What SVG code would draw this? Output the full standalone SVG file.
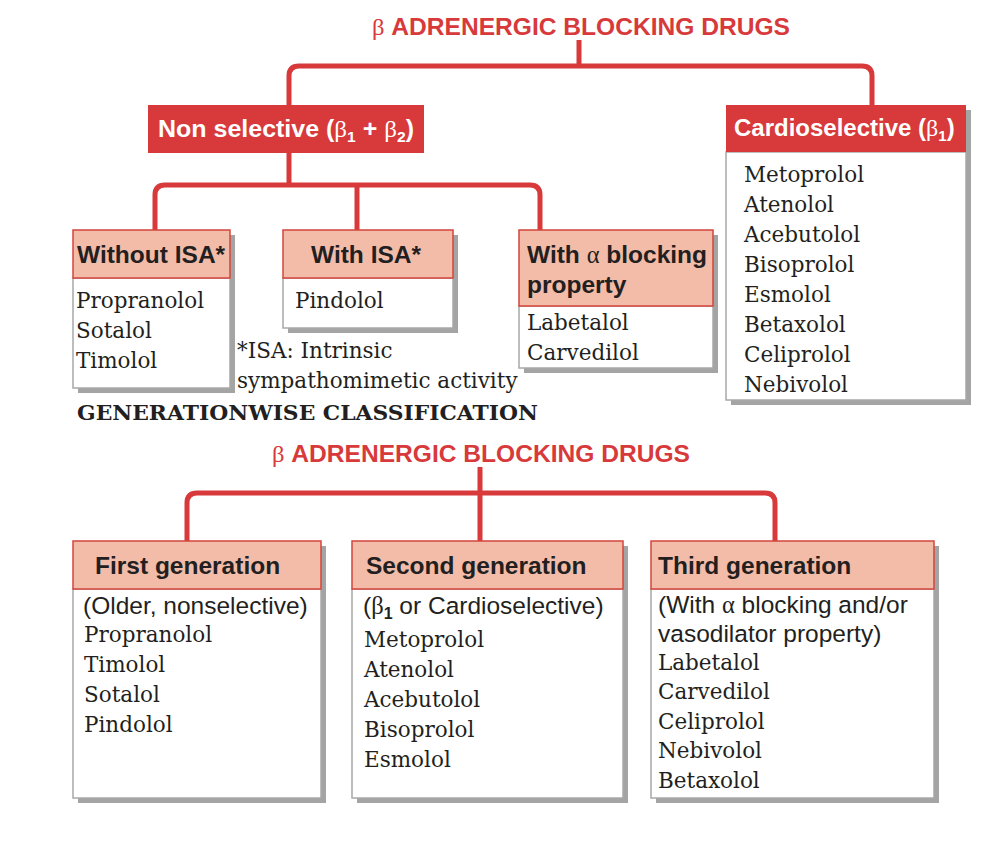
<svg xmlns="http://www.w3.org/2000/svg" width="1008" height="858" viewBox="0 0 1008 858">
<style>
.title{font-family:"Liberation Sans",Arial,sans-serif;font-weight:bold;font-size:24px;fill:#d8393a}
.hw{font-family:"Liberation Sans",Arial,sans-serif;font-weight:bold;font-size:24px;fill:#ffffff}
.hd{font-family:"Liberation Sans",Arial,sans-serif;font-weight:bold;font-size:24.5px;fill:#231f20}
.item{font-family:"DejaVu Serif","Liberation Serif",serif;font-size:21.5px;fill:#231f20}
.sans{font-family:"Liberation Sans",Arial,sans-serif;font-size:24.5px;fill:#231f20}
.bold{font-family:"DejaVu Serif","Liberation Serif",serif;font-weight:bold;font-size:21px;fill:#231f20}
.gr{font-family:"Liberation Serif",serif;font-weight:normal}
.red{fill:#d8393a}
.salmon{fill:#f3bca8;stroke:#d2453d;stroke-width:1.5}
.body{fill:#ffffff;stroke:#a8a8a8;stroke-width:1.5}
.shadow{fill:#a4a4a4}
.conn{fill:none;stroke:#d8393a;stroke-width:5}
</style>

<g id="connectors">
<path class="conn" d="M579,40 V66"/>
<path class="conn" d="M289,106 V76 Q289,66 299,66 H862 Q872,66 872,76 V106"/>
<path class="conn" d="M289,152 V185"/>
<path class="conn" d="M155,231 V195 Q155,185 165,185 H530 Q540,185 540,195 V231"/>
<path class="conn" d="M357,185 V231"/>
<path class="conn" d="M480,467 V542"/>
<path class="conn" d="M187,542 V503 Q187,493 197,493 H765 Q775,493 775,503 V542"/>
</g>

<g id="title1">
<text class="title" x="372" y="35" textLength="418" lengthAdjust="spacingAndGlyphs"><tspan class="gr">β</tspan> ADRENERGIC BLOCKING DRUGS</text>
</g>

<g id="nonselective">
<rect class="red" x="148" y="105" width="276" height="48"/>
<text class="hw" x="158" y="137" textLength="256" lengthAdjust="spacingAndGlyphs">Non selective (<tspan class="gr">β</tspan><tspan font-size="15" dy="5">1</tspan><tspan dy="-5"> + </tspan><tspan class="gr">β</tspan><tspan font-size="15" dy="5">2</tspan><tspan dy="-5">)</tspan></text>
</g>

<g id="cardioselective">
<rect class="shadow" x="731" y="110" width="240" height="295"/>
<rect class="body" x="726" y="152" width="240" height="248"/>
<rect class="red" x="726" y="105" width="240" height="47"/>
<text class="hw" x="734" y="136">Cardioselective (<tspan class="gr">β</tspan><tspan font-size="15" dy="5">1</tspan><tspan dy="-5">)</tspan></text>
<text class="item" x="744" y="182">Metoprolol</text>
<text class="item" x="744" y="212">Atenolol</text>
<text class="item" x="744" y="242">Acebutolol</text>
<text class="item" x="744" y="272">Bisoprolol</text>
<text class="item" x="744" y="302">Esmolol</text>
<text class="item" x="744" y="332">Betaxolol</text>
<text class="item" x="744" y="362">Celiprolol</text>
<text class="item" x="744" y="392">Nebivolol</text>
</g>

<g id="without-isa">
<rect class="shadow" x="78" y="235" width="157" height="158"/>
<rect class="body" x="73" y="278" width="157" height="110"/>
<rect class="salmon" x="73" y="230" width="157" height="48"/>
<text class="hd" x="77" y="263">Without ISA*</text>
<text class="item" x="76" y="308">Propranolol</text>
<text class="item" x="76" y="338">Sotalol</text>
<text class="item" x="76" y="368">Timolol</text>
</g>

<g id="with-isa">
<rect class="shadow" x="288" y="235" width="170" height="98"/>
<rect class="body" x="283" y="278" width="170" height="50"/>
<rect class="salmon" x="283" y="230" width="170" height="48"/>
<text class="hd" x="366" y="263" text-anchor="middle">With ISA*</text>
<text class="item" x="295" y="308">Pindolol</text>
</g>

<g id="with-alpha">
<rect class="shadow" x="524" y="235" width="194" height="138"/>
<rect class="body" x="519" y="306" width="194" height="62"/>
<rect class="salmon" x="519" y="230" width="194" height="76"/>
<text class="hd" x="527" y="263">With <tspan class="gr">α</tspan> blocking</text>
<text class="hd" x="527" y="293">property</text>
<text class="item" x="527" y="330">Labetalol</text>
<text class="item" x="527" y="360">Carvedilol</text>
</g>

<g id="footnote">
<text class="item" x="237" y="358">*ISA: Intrinsic</text>
<text class="item" x="237" y="388">sympathomimetic activity</text>
</g>

<g id="generationwise">
<text class="bold" x="77" y="420" textLength="461" lengthAdjust="spacingAndGlyphs">GENERATIONWISE CLASSIFICATION</text>
</g>

<g id="title2">
<text class="title" x="272" y="462" textLength="418" lengthAdjust="spacingAndGlyphs"><tspan class="gr">β</tspan> ADRENERGIC BLOCKING DRUGS</text>
</g>

<g id="first-generation">
<rect class="shadow" x="78" y="546" width="248" height="257"/>
<rect class="body" x="73" y="589" width="248" height="209"/>
<rect class="salmon" x="73" y="541" width="248" height="48"/>
<text class="hd" x="95" y="574">First generation</text>
<text class="sans" x="83" y="614">(Older, nonselective)</text>
<text class="item" x="84" y="642">Propranolol</text>
<text class="item" x="84" y="672">Timolol</text>
<text class="item" x="84" y="702">Sotalol</text>
<text class="item" x="84" y="732">Pindolol</text>
</g>

<g id="second-generation">
<rect class="shadow" x="357" y="546" width="271" height="257"/>
<rect class="body" x="352" y="589" width="271" height="209"/>
<rect class="salmon" x="352" y="541" width="271" height="48"/>
<text class="hd" x="366" y="574">Second generation</text>
<text class="sans" x="363" y="614">(<tspan class="gr">β</tspan><tspan font-size="16" dy="5" font-weight="bold">1</tspan><tspan dy="-5"> or Cardioselective)</tspan></text>
<text class="item" x="364" y="647">Metoprolol</text>
<text class="item" x="364" y="677">Atenolol</text>
<text class="item" x="364" y="707">Acebutolol</text>
<text class="item" x="364" y="737">Bisoprolol</text>
<text class="item" x="364" y="767">Esmolol</text>
</g>

<g id="third-generation">
<rect class="shadow" x="656" y="546" width="283" height="257"/>
<rect class="body" x="651" y="589" width="283" height="209"/>
<rect class="salmon" x="651" y="541" width="283" height="48"/>
<text class="hd" x="658" y="574">Third generation</text>
<text class="sans" x="658" y="613">(With <tspan class="gr">α</tspan> blocking and/or</text>
<text class="sans" x="658" y="642">vasodilator property)</text>
<text class="item" x="658" y="670">Labetalol</text>
<text class="item" x="658" y="699">Carvedilol</text>
<text class="item" x="658" y="729">Celiprolol</text>
<text class="item" x="658" y="758">Nebivolol</text>
<text class="item" x="658" y="788">Betaxolol</text>
</g>
</svg>
